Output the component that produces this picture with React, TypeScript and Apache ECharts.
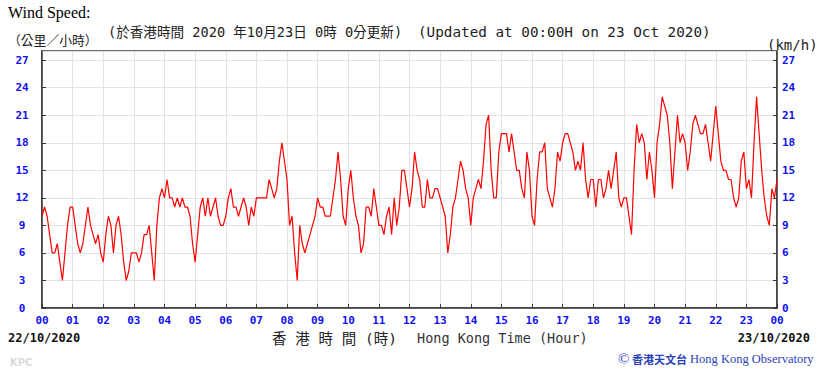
import React, { useEffect, useRef } from "react";
import * as echarts from "echarts";

// Hour tick labels along the x axis (00 of 22/10 to 00 of 23/10)
const xLabels = [
  "00", "01", "02", "03", "04", "05", "06", "07", "08", "09", "10", "11",
  "12", "13", "14", "15", "16", "17", "18", "19", "20", "21", "22", "23", "00",
];

// Wind speed (km/h), one reading every 5 minutes from 00:00 to 24:00
const STEP_MINUTES = 5;
const speeds = [
  10, 11, 10, 8, 6, 6, 7, 5, 3, 6, 9, 11, 11,
  9, 7, 6, 7, 9, 11, 9, 8, 7, 8, 6, 5,
  8, 10, 9, 6, 9, 10, 8, 5, 3, 4, 6, 6,
  6, 5, 6, 8, 8, 9, 6, 3, 9, 12, 13, 12,
  14, 12, 12, 11, 12, 11, 12, 11, 11, 10, 7, 5,
  8, 11, 12, 10, 12, 10, 11, 12, 10, 9, 9, 10,
  12, 13, 11, 11, 10, 11, 12, 11, 9, 11, 10, 12,
  12, 12, 12, 12, 14, 13, 12, 13, 16, 18, 16, 14,
  9, 10, 6, 3, 9, 7, 6, 7, 8, 9, 10, 12,
  11, 11, 10, 10, 10, 12, 14, 17, 14, 10, 9, 13,
  15, 12, 10, 9, 6, 7, 11, 11, 10, 13, 11, 9,
  9, 8, 10, 11, 8, 12, 9, 11, 15, 15, 13, 11,
  13, 17, 15, 14, 11, 11, 14, 12, 12, 13, 13, 12,
  11, 10, 6, 8, 11, 12, 14, 16, 15, 13, 12, 9,
  12, 13, 14, 13, 16, 20, 21, 15, 12, 12, 17, 19,
  19, 19, 17, 19, 17, 15, 15, 13, 12, 17, 15, 10,
  9, 14, 17, 17, 18, 13, 12, 11, 13, 17, 16, 18,
  19, 19, 18, 17, 15, 16, 15, 18, 14, 12, 14, 14,
  11, 14, 14, 12, 13, 15, 13, 15, 17, 12, 11, 12,
  12, 10, 8, 15, 20, 18, 19, 18, 14, 17, 15, 12,
  18, 20, 23, 22, 21, 18, 13, 17, 21, 18, 19, 18,
  15, 17, 20, 21, 20, 19, 19, 20, 18, 16, 19, 22,
  19, 16, 15, 15, 14, 14, 12, 11, 12, 16, 17, 13,
  14, 12, 18, 23, 19, 15, 12, 10, 9, 13, 12, 14,
];

const Y_MAX = 28;
const Y_INTERVAL = 3;

const LABEL_BLUE = "#1010f0";
const MONO = "'DejaVu Sans Mono', 'Liberation Mono', monospace";

function txt(x: number, y: number, text: string, font: string, fill: string, align = "left") {
  return {
    type: "text",
    x,
    y,
    silent: true,
    style: {
      text,
      font,
      fill,
      align,
      textAlign: align,
      verticalAlign: "middle",
      textVerticalAlign: "middle",
    },
  };
}

export default function App() {
  const ref = useRef<HTMLDivElement>(null);

  useEffect(() => {
    if (!ref.current) return;
    const chart = echarts.init(ref.current, null, { renderer: "svg", width: 820, height: 372 });

    const data = speeds.map((v, i) => [(i * STEP_MINUTES) / 60, v]);

    const yLabelStyle = {
      color: LABEL_BLUE,
      fontWeight: "bold" as const,
      fontFamily: MONO,
      fontSize: 11,
      showMaxLabel: false,
    };

    chart.setOption({
      animation: false,
      backgroundColor: "#ffffff",
      grid: {
        left: 42,
        top: 51,
        width: 735,
        height: 257,
        show: true,
        borderColor: "#3a3a3a",
        borderWidth: 1.5,
        backgroundColor: "#ffffff",
      },
      xAxis: {
        type: "value",
        min: 0,
        max: 24,
        interval: 1,
        axisLine: { show: true, lineStyle: { color: "#3a3a3a", width: 1.5 } },
        axisTick: { show: true, inside: true, length: 4, lineStyle: { color: "#3a3a3a" } },
        splitLine: { show: true, lineStyle: { color: "#e2e2e2", width: 1 } },
        axisLabel: {
          formatter: (v: number) => xLabels[Math.round(v)] ?? "",
          color: LABEL_BLUE,
          fontWeight: "bold",
          fontFamily: MONO,
          fontSize: 11,
          margin: 7,
          showMinLabel: true,
          showMaxLabel: true,
        },
      },
      yAxis: [
        {
          type: "value",
          position: "left",
          min: 0,
          max: Y_MAX,
          interval: Y_INTERVAL,
          axisLine: { show: true, lineStyle: { color: "#3a3a3a", width: 1.5 } },
          axisTick: { show: true, inside: true, length: 4, lineStyle: { color: "#3a3a3a" } },
          splitLine: { show: true, lineStyle: { color: "#e2e2e2", width: 1 } },
          axisLabel: { ...yLabelStyle, align: "center", margin: 20 },
        },
        {
          type: "value",
          position: "right",
          min: 0,
          max: Y_MAX,
          interval: Y_INTERVAL,
          axisLine: { show: true, lineStyle: { color: "#3a3a3a", width: 1.5 } },
          axisTick: { show: true, inside: true, length: 4, lineStyle: { color: "#3a3a3a" } },
          splitLine: { show: false },
          axisLabel: { ...yLabelStyle, margin: 5 },
        },
      ],
      series: [
        {
          type: "line",
          data,
          yAxisIndex: 0,
          symbol: "none",
          lineStyle: { color: "#ff0000", width: 1.2 },
          z: 5,
        },
      ],
      graphic: [
        txt(8, 12, "Wind Speed:", "16px 'Liberation Serif', serif", "#000000"),
        txt(8, 39, "（公里／小時）", "12.8px 'Noto Sans CJK TC', sans-serif", "#222222"),
        txt(108, 32, "(於香港時間 2020 年10月23日 0時 0分更新)", `13.6px ${MONO}, 'Noto Sans CJK TC'`, "#222222"),
        txt(418, 32, "(Updated at 00:00H on 23 Oct 2020)", `14.3px ${MONO}`, "#222222"),
        txt(767, 45, "(km/h)", `14px ${MONO}`, "#222222"),
        txt(8, 338, "22/10/2020", `bold 12px ${MONO}`, "#111111"),
        txt(810, 338, "23/10/2020", `bold 12px ${MONO}`, "#111111", "right"),
        txt(272, 339, "香 港 時 間 (時)", `14.5px ${MONO}, 'Noto Sans CJK TC'`, "#222222"),
        txt(417, 338, "Hong Kong Time (Hour)", `13.5px ${MONO}`, "#333333"),
        txt(618, 359, "©", "15px 'Liberation Serif', serif", "#2a3fb8"),
        txt(632, 359, "香港天文台", "bold 11px 'Noto Sans CJK TC', sans-serif", "#2a3fb8"),
        txt(690, 359, "Hong Kong Observatory", "12.5px 'Liberation Serif', serif", "#2a3fb8"),
        txt(10, 362, "KPC", "bold 10px 'DejaVu Sans', sans-serif", "#dadada"),
      ],
    });

    return () => chart.dispose();
  }, []);

  return (
    <div
      ref={ref}
      style={{ position: "absolute", left: 0, top: 0, width: 820, height: 372, background: "#fff" }}
    />
  );
}
